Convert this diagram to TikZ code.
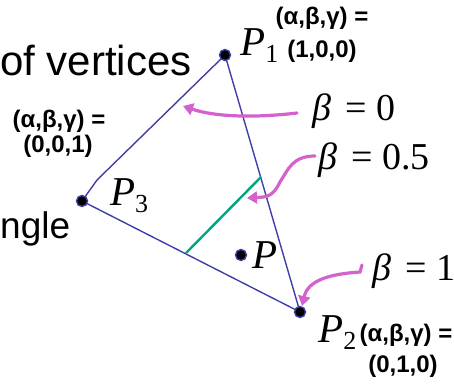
\documentclass[tikz,border=0pt]{standalone}
\usepackage{fontspec}
\setmainfont{Liberation Sans}
\newfontfamily\tnr{Liberation Serif}
\usetikzlibrary{arrows.meta}
\definecolor{edgeblue}{HTML}{3F3FA8}
\definecolor{tealgreen}{HTML}{00A47E}
\definecolor{orchidm}{HTML}{D462CC}
\tikzset{
  vdot/.style={circle,fill=black,draw=edgeblue,line width=1.4pt,inner sep=0pt,minimum size=11pt},
  edge/.style={edgeblue,line width=1.4pt},
  mline/.style={tealgreen,line width=2.4pt},
  marrow/.style={orchidm,line width=3.2pt,line cap=round,-{Triangle[length=10pt,width=12pt]}},
  bigtxt/.style={anchor=base west,inner sep=0pt},
  bold/.style={inner sep=0pt,font=\fontsize{24}{24}\selectfont\bfseries},
  plab/.style={anchor=base west,inner sep=0pt,font=\tnr\fontsize{41}{41}\selectfont},
  blab/.style={anchor=base west,inner sep=0pt,font=\tnr\fontsize{38}{38}\selectfont}
}
\newcommand{\Plab}[1]{\textit{P}\raisebox{-0.18em}{\fontsize{26}{26}\selectfont #1}}
\begin{document}
\begin{tikzpicture}[x=1pt,y=-1pt]
\useasboundingbox (0,0) rectangle (454,386);
% texts on left
\node[bigtxt,font=\fontsize{42}{42}\selectfont] (t1) at (0,75) {of vertices};
\node[bigtxt,font=\fontsize{37}{37}\selectfont] (t2) at (0,238) {ngle};
% vertex positions
\coordinate (V1) at (225,55);
\coordinate (V2) at (300,312);
\coordinate (V3) at (82,201);
\coordinate (V) at (241,255);
\coordinate (K) at (97,180);
\coordinate (G1) at (186,253);
\coordinate (G2) at (261,177);
\draw[edge] (V1) -- (K) -- (V3);
\draw[edge] (V3) -- (V2);
\draw[edge] (V1) -- (V2);
\draw[mline] (G1) -- (G2);
% dots on top
\node[vdot] (P1) at (V1) {};
\node[vdot] (P2) at (V2) {};
\node[vdot] (P3) at (V3) {};
\node[vdot] (P) at (V) {};
% vertex labels
\node[plab] (lP1) at (240,55) {\Plab{1}};
\node[plab] (lP3) at (110,205) {\Plab{3}};
\node[plab] (lP) at (252,268) {\textit{P}};
\node[plab] (lP2) at (318,342) {\Plab{2}};
% barycentric labels
\node[bold] (b1a) at (322,18) {(α,β,γ) =};
\node[bold] (b1b) at (322,51) {(1,0,0)};
\node[bold] (b3a) at (59,121) {(α,β,γ) =};
\node[bold] (b3b) at (58,146) {(0,0,1)};
\node[bold] (b2a) at (406,335) {(α,β,γ) =};
\node[bold] (b2b) at (403,366) {(0,1,0)};
% beta labels
\node[blab] (be0) at (312,120) {\textit{β}\hspace{0.12em} = 0};
\node[blab] (be5) at (318,169) {\textit{β}\hspace{0.12em} = 0.5};
\node[blab] (be1) at (372,280) {\textit{β}\hspace{0.12em} = 1};
% magenta arrows
\coordinate (a0s) at (297,113);
\coordinate (a0e) at (183,106);
\draw[marrow] (a0s) .. controls (255,118) and (215,117) .. (a0e);
\coordinate (a5s) at (315,156);
\coordinate (a5m) at (280,182);
\coordinate (a5e) at (247,198);
\draw[marrow] (a5s) .. controls (292,156) and (288,170) .. (a5m) .. controls (273,196) and (268,197) .. (a5e);
\coordinate (a1s) at (362,265);
\coordinate (a1m) at (360,272);
\coordinate (a1e) at (302,306);
\draw[marrow] (a1s) -- (a1m) .. controls (330,274) and (308,280) .. (a1e);
\end{tikzpicture}
\end{document}
